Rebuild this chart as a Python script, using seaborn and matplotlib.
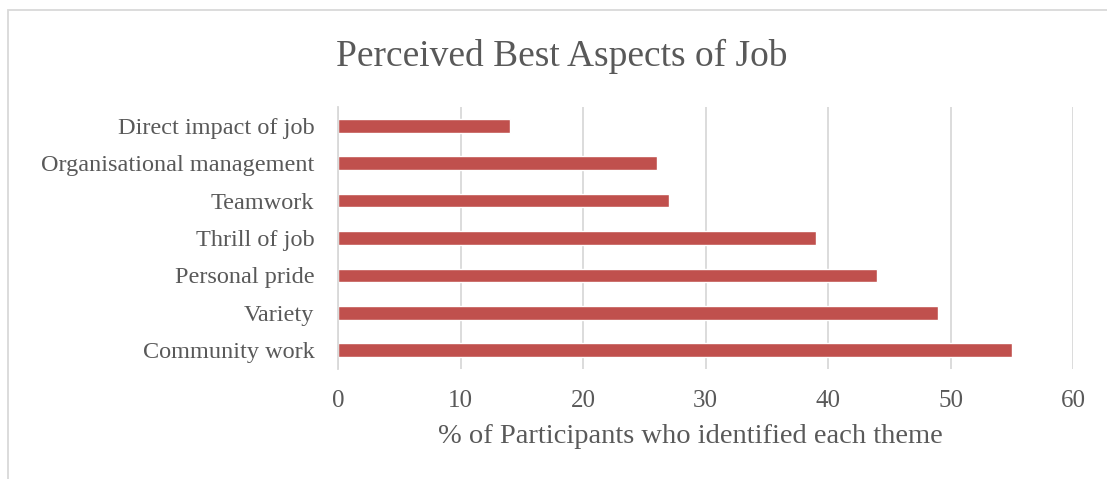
import matplotlib
matplotlib.use("Agg")
import matplotlib.pyplot as plt
import seaborn as sns
import pandas as pd
from matplotlib.patches import Rectangle

# data
themes = ["Direct impact of job", "Organisational management", "Teamwork",
          "Thrill of job", "Personal pride", "Variety", "Community work"]
percent = [14, 26, 27, 39, 44, 49, 55]
x_ticks = [0, 10, 20, 30, 40, 50, 60]

df = pd.DataFrame({"Theme": themes, "Percent": percent})

sns.set_theme(style="white")
plt.rcParams["font.family"] = ["Liberation Serif", "DejaVu Serif"]

TEXT = "#595959"
GRID = "#D9D9D9"
BAR = "#C0504D"

fig = plt.figure(figsize=(11.07, 4.79), dpi=100)
ax = fig.add_axes([338 / 1107, 1 - 369 / 479, (1073 - 338) / 1107, (369 - 107) / 479])

sns.barplot(data=df, x="Percent", y="Theme", orient="h", color=BAR,
            width=0.37, saturation=1, ax=ax)

ax.set_xlim(0, 60)
ax.set_ylim(6.5, -0.5)
ax.set_xticks(x_ticks)
ax.set_xticklabels([str(t) for t in x_ticks])
ax.xaxis.grid(True, color=GRID, linewidth=1.3)
ax.set_axisbelow(True)
for s in ["top", "right", "bottom"]:
    ax.spines[s].set_visible(False)
ax.spines["left"].set_color(GRID)
ax.spines["left"].set_linewidth(1.3)
ax.tick_params(axis="both", length=0, colors=TEXT)
ax.tick_params(axis="x", pad=15, labelsize=18)
ax.tick_params(axis="y", pad=17, labelsize=17.5)
ax.set_ylabel("")
ax.set_xlabel("% of Participants who identified each theme", fontsize=20.5,
              color=TEXT, labelpad=10)
ax.xaxis.set_label_coords(0.48, -0.21)

fig.text(562 / 1107, 1 - 56 / 479, "Perceived Best Aspects of Job",
         ha="center", va="center", fontsize=27, color=TEXT)

# outer chart frame
fig.patches.append(Rectangle((8 / 1107, -0.05), 1.1, 1 - 10 / 479 + 0.05,
                             transform=fig.transFigure, fill=False,
                             edgecolor=GRID, linewidth=1.3))

fig.savefig("out.png", dpi=100, facecolor="white")
